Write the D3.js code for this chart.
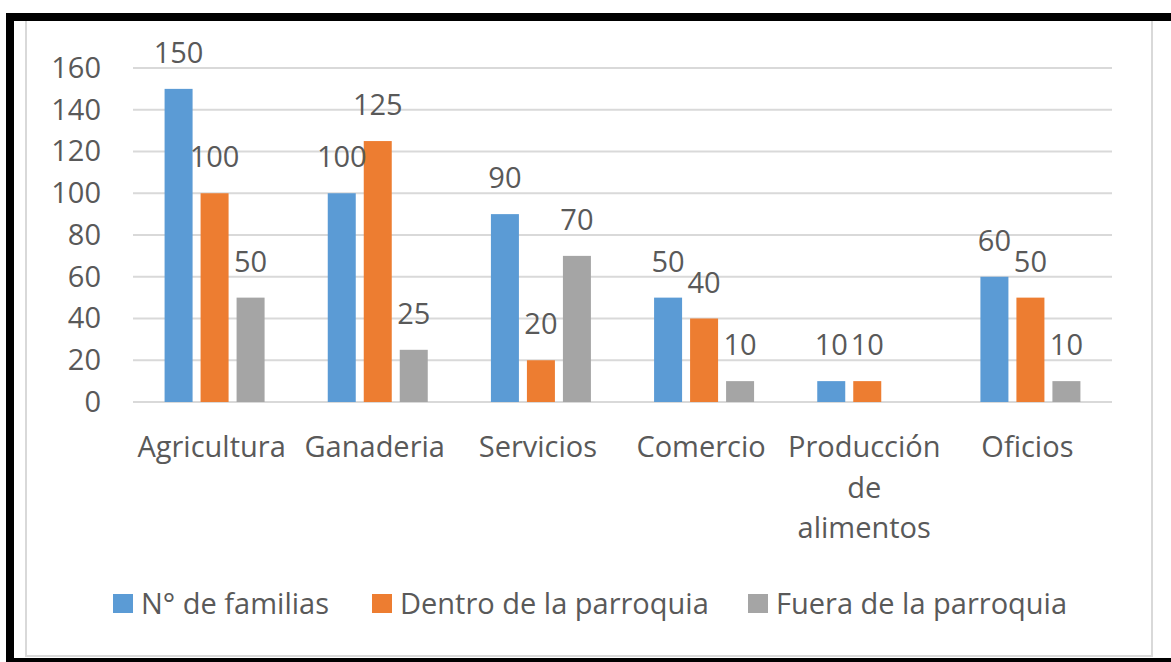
<!DOCTYPE html>
<html>
<head>
<meta charset="utf-8">
<script src="https://d3js.org/d3.v7.min.js"></script>
<style>
  body { margin: 0; background: #fff; }
  svg text { font-family: "Open Sans", sans-serif; fill: #595959; }
</style>
</head>
<body>
<script>
'use strict';

// chart data
const categories = ["Agricultura", "Ganaderia", "Servicios", "Comercio", "Producción de alimentos", "Oficios"];
const seriesNames = ["N° de familias", "Dentro de la parroquia", "Fuera de la parroquia"];
const familias = [150, 100, 90, 50, 10, 60];
const dentro = [100, 125, 20, 40, 10, 50];
const fuera = [50, 25, 70, 10, null, 10];
const yTicks = [0, 20, 40, 60, 80, 100, 120, 140, 160];

const colors = ["#5B9BD5", "#ED7D31", "#A5A5A5"];
const fontSize = '29px';

let svgContainer = "";

window.onload = function() {
  svgContainer = d3.select('body')
    .append('svg')
    .attr('width', 1171)
    .attr('height', 662);

  drawFrame();
  let scales = drawAxes();
  plotBars(scales);
  drawLegend();
}

// black outer frame and light chart border
function drawFrame() {
  svgContainer.append('rect')
    .attr('x', 6).attr('y', 13)
    .attr('width', 1165).attr('height', 649)
    .attr('fill', '#000');
  svgContainer.append('rect')
    .attr('x', 14).attr('y', 21)
    .attr('width', 1157).attr('height', 637)
    .attr('fill', '#fff');
  svgContainer.append('path')
    .attr('d', 'M26,21V656H1152V21')
    .attr('fill', 'none')
    .attr('stroke', '#d9d9d9')
    .attr('stroke-width', 2);
}

function drawAxes() {
  let xScale = d3.scaleBand()
    .domain(categories)
    .range([133, 1112]);

  let yScale = d3.scaleLinear()
    .domain([0, 160])
    .range([402, 68]);

  // gridlines
  svgContainer.append('g')
    .selectAll('line')
    .data(yTicks)
    .enter()
    .append('line')
      .attr('x1', 133)
      .attr('x2', 1112)
      .attr('y1', d => yScale(d))
      .attr('y2', d => yScale(d))
      .attr('stroke', '#d9d9d9')
      .attr('stroke-width', 2);

  // y tick labels
  let yAxis = d3.axisLeft(yScale).tickValues(yTicks).tickSize(0).tickPadding(0);
  let yg = svgContainer.append('g')
    .attr('transform', 'translate(101, 0)')
    .call(yAxis);
  yg.select('.domain').remove();
  yg.selectAll('text')
    .style('font-size', fontSize)
    .style('font-family', '"Open Sans", sans-serif')
    .attr('fill', '#595959');

  // category labels, wrapped like the original
  let labels = svgContainer.append('g')
    .selectAll('text')
    .data(categories)
    .enter()
    .append('text')
      .attr('x', d => xScale(d) + xScale.bandwidth() / 2)
      .attr('y', 457)
      .attr('text-anchor', 'middle')
      .style('font-size', fontSize);
  labels.each(function(d) {
    let lines = d == "Producción de alimentos" ? ["Producción", "de", "alimentos"] : [d];
    let t = d3.select(this);
    lines.forEach((l, i) => {
      t.append('tspan')
        .attr('x', xScale(d) + xScale.bandwidth() / 2 - 3)
        .attr('dy', i == 0 ? 0 : 40.5)
        .text(l);
    });
  });

  return { x: xScale, y: yScale };
}

function plotBars(scales) {
  let xScale = scales.x;
  let yScale = scales.y;
  let groupWidth = 108;

  let inner = d3.scaleBand()
    .domain([0, 1, 2])
    .range([0, groupWidth])
    .paddingInner(8 / 36)
    .paddingOuter(4 / 36);

  let allSeries = [familias, dentro, fuera];
  let rows = [];
  categories.forEach((c, i) => {
    allSeries.forEach((s, j) => {
      if (s[i] != null) rows.push({ cat: c, series: j, value: s[i] });
    });
  });

  let xPos = d => xScale(d.cat) + (xScale.bandwidth() - groupWidth) / 2 + inner(d.series);

  svgContainer.append('g')
    .selectAll('rect')
    .data(rows)
    .enter()
    .append('rect')
      .attr('x', xPos)
      .attr('y', d => yScale(d.value))
      .attr('width', inner.bandwidth())
      .attr('height', d => yScale(0) - yScale(d.value))
      .attr('fill', d => colors[d.series]);

  // value labels above bars
  svgContainer.append('g')
    .selectAll('text')
    .data(rows)
    .enter()
    .append('text')
      .attr('x', d => xPos(d) + inner.bandwidth() / 2)
      .attr('y', d => yScale(d.value) - 26)
      .attr('text-anchor', 'middle')
      .style('font-size', fontSize)
      .text(d => d.value);
}

function drawLegend() {
  let startX = [113, 372, 748];
  let legend = svgContainer.append('g')
    .selectAll('g')
    .data(seriesNames)
    .enter()
    .append('g')
      .attr('transform', (d, i) => 'translate(' + startX[i] + ', 604)');

  legend.append('rect')
    .attr('x', 0)
    .attr('y', -10)
    .attr('width', 20)
    .attr('height', 19)
    .attr('fill', (d, i) => colors[i]);

  legend.append('text')
    .attr('x', 28)
    .attr('y', 10)
    .style('font-size', fontSize)
    .text(d => d);
}
</script>
</body>
</html>
